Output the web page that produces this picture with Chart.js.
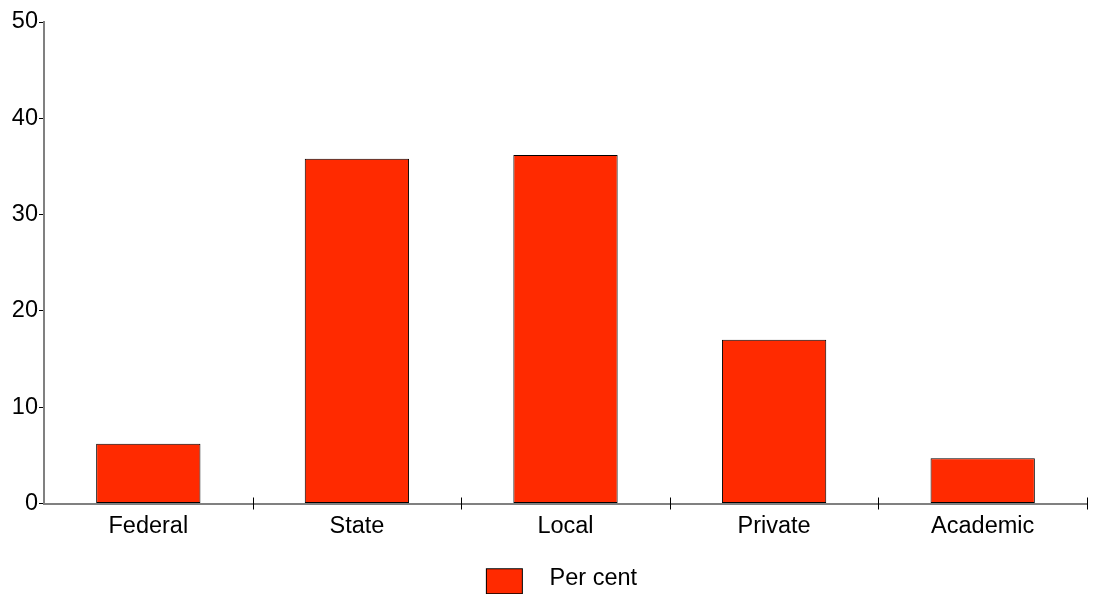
<!DOCTYPE html>
<html>
<head>
<meta charset="utf-8">
<script src="https://cdn.jsdelivr.net/npm/chart.js@4"></script>
<style>
  html, body { margin: 0; padding: 0; background: #fff; }
  #wrap { width: 1095px; height: 600px; }
</style>
</head>
<body>
<div id="wrap"><canvas id="myChart"></canvas></div>
<script>
// categorías y valores
const categorias = ['Federal', 'State', 'Local', 'Private', 'Academic'];
const porcentajes = [6.2, 35.8, 36.2, 17.0, 4.7];
const ticksY = [0, 10, 20, 30, 40, 50];
const nombreSerie = 'Per cent';

const colorEje = '#808080';
const colorBarra = '#ff2a00';
const fuente = { family: 'Liberation Sans, Arial, sans-serif', size: 23.5 };

// muestra de la leyenda: caja roja con margen transparente alrededor
const muestra = document.createElement('canvas');
muestra.width = 88;
muestra.height = 32;
const mctx = muestra.getContext('2d');
mctx.fillStyle = colorBarra;
mctx.fillRect(36, 6, 37, 26);
mctx.strokeStyle = '#000';
mctx.lineWidth = 1;
mctx.strokeRect(36.5, 6.5, 36, 25);

// marcas del eje x que cruzan la línea (arriba y abajo)
const marcasCruzadas = {
    id: 'marcasCruzadas',
    afterDraw(chart) {
        const x = chart.scales.x;
        const c = chart.ctx;
        c.save();
        c.strokeStyle = '#000';
        c.lineWidth = 1;
        for (let i = 1; i <= categorias.length; i++) {
            const px = Math.round(x.getPixelForValue(i - 0.5)) + 0.5;
            c.beginPath();
            c.moveTo(px, x.top - 6);
            c.lineTo(px, x.top + 6);
            c.stroke();
        }
        c.restore();
    }
};

const ctx = document.getElementById('myChart').getContext('2d');
const chart = new Chart(ctx, {
    type: 'bar',
    data: {
        labels: categorias,
        datasets: [{
            label: nombreSerie,
            data: porcentajes,
            backgroundColor: colorBarra,
            borderColor: '#000000',
            borderWidth: 1,
            borderSkipped: false,
            categoryPercentage: 0.5,
            barPercentage: 1,
            pointStyle: muestra
        }]
    },
    options: {
        responsive: true,
        maintainAspectRatio: false,
        animation: false,
        layout: { padding: { top: 22, right: 8, left: 0, bottom: 0 } },
        scales: {
            y: {
                min: 0,
                max: 50,
                afterBuildTicks: (s) => { s.ticks = ticksY.map(v => ({ value: v })); },
                afterFit: (s) => { s.width = 44; },
                border: { color: colorEje, width: 2 },
                grid: { drawOnChartArea: false, tickLength: 5, color: '#000' },
                ticks: { color: '#000', font: fuente, padding: 1 }
            },
            x: {
                offset: true,
                afterFit: (s) => { s.height = 56; },
                border: { color: colorEje, width: 2 },
                grid: { display: false },
                ticks: { color: '#000', font: fuente, padding: 1 }
            }
        },
        plugins: {
            legend: {
                position: 'bottom',
                labels: {
                    color: '#000',
                    font: fuente,
                    usePointStyle: true,
                    pointStyleWidth: 88,
                    boxHeight: 25,
                    padding: 7
                }
            },
            tooltip: { enabled: false }
        }
    },
    plugins: [marcasCruzadas]
});
</script>
</body>
</html>
